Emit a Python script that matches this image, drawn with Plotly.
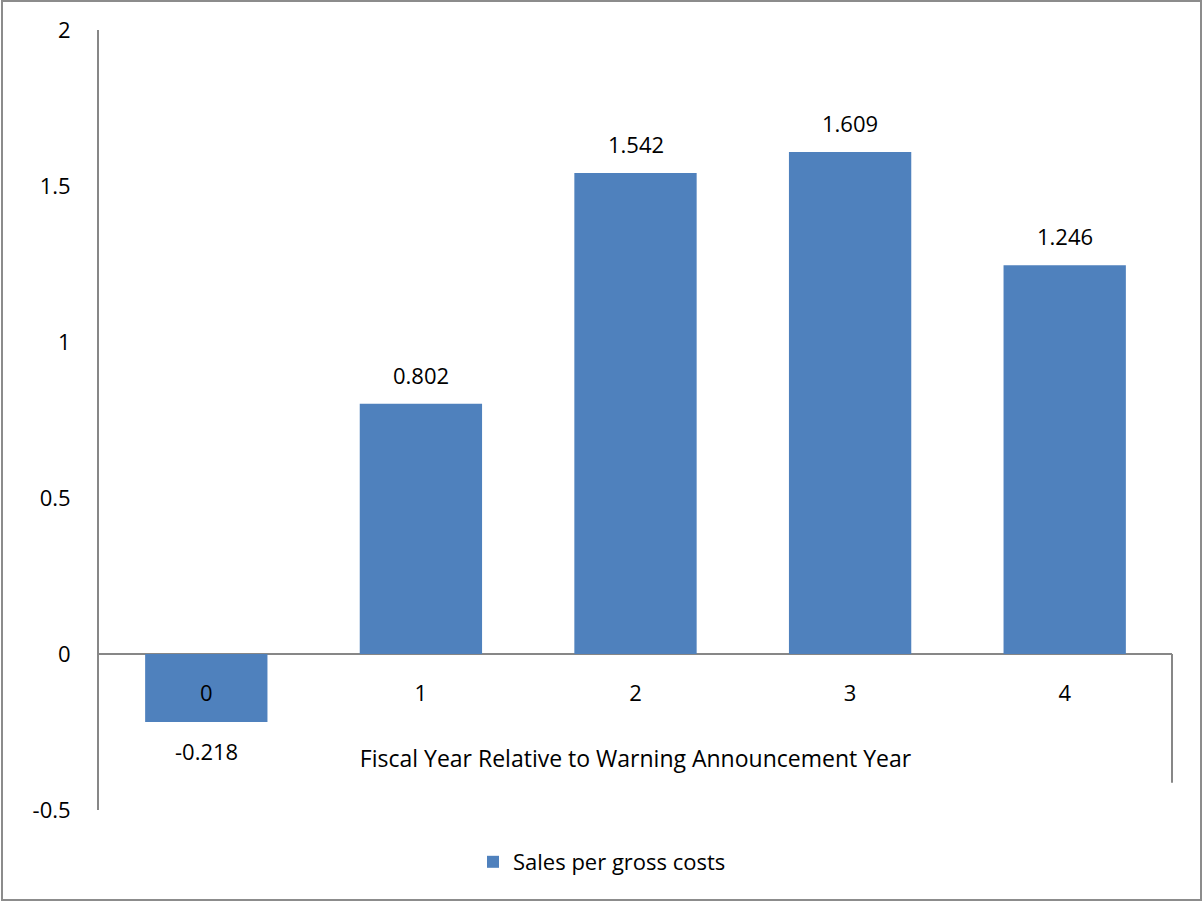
import plotly.graph_objects as go

categories = [0, 1, 2, 3, 4]
values = [-0.218, 0.802, 1.542, 1.609, 1.246]
value_labels = ["-0.218", "0.802", "1.542", "1.609", "1.246"]
series_name = "Sales per gross costs"
x_title = "Fiscal Year Relative to Warning Announcement Year"
y_ticks = [-0.5, 0, 0.5, 1, 1.5, 2]
y_ticktext = ["-0.5", "0", "0.5", "1", "1.5", "2"]

FONT = "Open Sans"
FS = 22
BAR = "#4F81BD"
AX = "#878787"

fig = go.Figure()
fig.add_trace(go.Bar(
    x=categories, y=values, name=series_name,
    marker=dict(color=BAR, line=dict(width=0)),
    width=0.57, showlegend=True,
))

for c, v, t in zip(categories, values, value_labels):
    fig.add_annotation(
        x=c, y=v, text=t, showarrow=False,
        yanchor="bottom" if v >= 0 else "top",
        yshift=12 if v >= 0 else -12,
        font=dict(family=FONT, size=FS, color="#000000"),
    )

W, H = 1204, 902
L, R, T, B = 99, 32, 30, 92
pw, ph = W - L - R, H - T - B

def px_x(p):
    return (p - L) / pw

def px_y(p):
    return (H - B - p) / ph

# outer chart border
fig.add_shape(type="rect", xref="paper", yref="paper",
              x0=px_x(2), x1=px_x(1201), y0=px_y(900), y1=px_y(1),
              line=dict(color="#8C8C8C", width=2), layer="below")
# right edge line of plot area below zero
fig.add_shape(type="line", xref="paper", yref="y",
              x0=1, x1=1, y0=0, y1=-0.413,
              line=dict(color=AX, width=2))

fig.update_layout(
    width=W, height=H,
    margin=dict(l=L, r=R, t=T, b=B, pad=0, autoexpand=False),
    paper_bgcolor="white", plot_bgcolor="white",
    font=dict(family=FONT, size=FS, color="#000000"),
    bargap=0.43,
    showlegend=True,
    legend=dict(orientation="h", xref="container", yref="container",
                x=0.5, xanchor="center", y=1 - 862 / H, yanchor="middle",
                font=dict(family=FONT, size=FS), itemsizing="constant"),
    xaxis=dict(
        type="linear", range=[-0.5, 4.5],
        tickmode="array", tickvals=categories, ticktext=[str(c) for c in categories],
        anchor="free", position=0.2,
        showline=False, showgrid=False, zeroline=False, ticks="",
        ticklabelstandoff=24, automargin=False,
        title=dict(text=x_title, standoff=44, font=dict(family=FONT, size=23)),
    ),
    yaxis=dict(
        range=[-0.5, 2], tickmode="array", tickvals=y_ticks, ticktext=y_ticktext,
        showline=True, linecolor=AX, linewidth=2, automargin=False,
        showgrid=False, zeroline=True, zerolinecolor=AX, zerolinewidth=2,
        ticks="", ticklabelstandoff=22,
    ),
)

fig.write_html("out.html")
